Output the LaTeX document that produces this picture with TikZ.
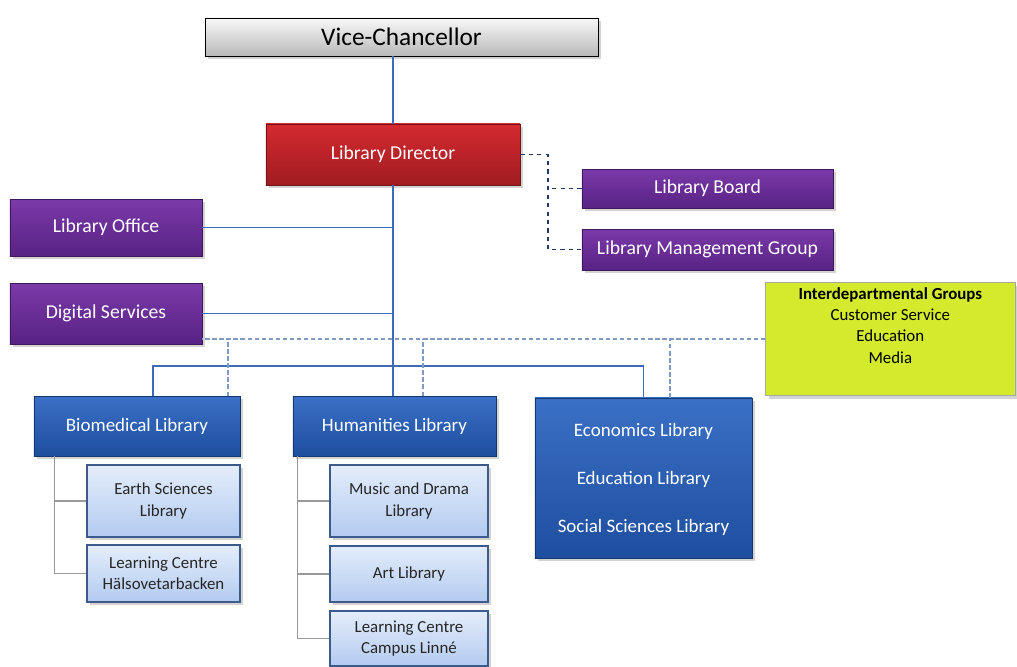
\documentclass[tikz,border=0pt]{standalone}
\usepackage{fontspec}
\setmainfont{Carlito}
\usetikzlibrary{shadows}

\definecolor{vcgray}{HTML}{B8B8B8}
\definecolor{dirtop}{HTML}{D42A30}
\definecolor{dirbot}{HTML}{A01C20}
\definecolor{purtop}{HTML}{7B3AA9}
\definecolor{purbot}{HTML}{582284}
\definecolor{blutop}{HTML}{3A70C6}
\definecolor{blubot}{HTML}{1E4E9E}
\definecolor{subtop}{HTML}{E4EDFB}
\definecolor{subbot}{HTML}{B3CBF0}
\definecolor{subline}{HTML}{3C5A8A}
\definecolor{grpfill}{HTML}{D4EA2C}
\definecolor{linkblue}{HTML}{3F6AB5}
\definecolor{linknavy}{HTML}{1F3864}
\definecolor{linkdot}{HTML}{7F9BC4}

\tikzset{
  unit/.style={draw=#1!70!black, drop shadow={opacity=0.35}, align=center, inner sep=2pt},
  vcbox/.style={unit=gray, draw=black, top color=gray!5, bottom color=vcgray, text=black,
    font=\fontsize{18}{21}\selectfont},
  dirbox/.style={unit=dirbot, top color=dirtop, bottom color=dirbot, text=white,
    font=\fontsize{14}{17}\selectfont},
  purbox/.style={unit=purbot, top color=purtop, bottom color=purbot, text=white,
    font=\fontsize{14}{17}\selectfont},
  blubox/.style={unit=blubot, top color=blutop, bottom color=blubot, text=white,
    font=\fontsize{13.5}{16}\selectfont},
  subbox/.style={draw=subline, thick, top color=subtop, bottom color=subbot, text=black!85,
    drop shadow={opacity=0.35}, align=center, font=\fontsize{12}{15}\selectfont},
  grpbox/.style={draw=gray!70, fill=grpfill, drop shadow={opacity=0.35}, align=center,
    text=black, font=\fontsize{12}{15}\selectfont},
  solidlink/.style={draw=linkblue, line width=1.3pt},
  mgrlink/.style={draw=linknavy, line width=1.3pt, dashed},
  grplink/.style={draw=linkdot, line width=1pt, densely dashed},
  sublink/.style={draw=gray!80, line width=0.9pt}
}

\begin{document}
\begin{tikzpicture}[x=0.025cm, y=-0.025cm]
  \useasboundingbox (0,0) rectangle (1017,666);

  % top of the tree
  \node[vcbox, minimum width=9.825cm, minimum height=0.95cm] (vc) at (401.5,37) {Vice-Chancellor};
  \node[dirbox, minimum width=6.35cm, minimum height=1.525cm] (dir) at (393,154.5) {Library Director};

  % boards and staff units
  \node[purbox, minimum width=6.275cm, minimum height=0.975cm] (board) at (707.5,188.5) {Library Board};
  \node[purbox, minimum width=6.275cm, minimum height=1.025cm] (mgmt) at (707.5,249.5) {Library Management Group};
  \node[purbox, minimum width=4.8cm, minimum height=1.425cm] (office) at (106,227.5) {Library Office};
  \node[purbox, minimum width=4.8cm, minimum height=1.525cm] (digital) at (106,313.5) {Digital Services};

  \node[grpbox, minimum width=6.25cm, minimum height=2.825cm, anchor=north west] (groups) at (765,282)
    {\textbf{Interdepartmental Groups}\\ Customer Service\\ Education\\ Media\\[4pt]};

  % libraries
  \node[blubox, minimum width=5.15cm, minimum height=1.5cm] (bio) at (137,426) {Biomedical Library};
  \node[blubox, minimum width=5.075cm, minimum height=1.5cm] (hum) at (394.5,426) {Humanities Library};
  \node[blubox, minimum width=5.425cm, minimum height=4cm] (econ) at (643.5,478)
    {Economics Library\\[18pt] Education Library\\[18pt] Social Sciences Library\\[-16pt]};

  \node[subbox, minimum width=3.825cm, minimum height=1.8cm] (earth) at (163.5,501) {Earth Sciences\\Library};
  \node[subbox, minimum width=3.825cm, minimum height=1.425cm] (lch) at (163.5,573.5) {Learning Centre\\Hälsovetarbacken};
  \node[subbox, minimum width=3.95cm, minimum height=1.8cm] (music) at (409,501) {Music and Drama\\Library};
  \node[subbox, minimum width=3.95cm, minimum height=1.4cm] (art) at (409,574) {Art Library};
  \node[subbox, minimum width=3.95cm, minimum height=1.375cm] (lcc) at (409,638.5) {Learning Centre\\Campus Linné};

  % line of command
  \coordinate (bus) at (0,366);
  \draw[solidlink] (dir.north) -- (dir.north |- vc.south);
  \draw[solidlink] (dir.south) -- (dir.south |- hum.north);
  \draw[solidlink] (office.east) -- (office.east -| dir.south);
  \draw[solidlink] (digital.east) -- (digital.east -| dir.south);
  \draw[solidlink] ([xshift=0.4cm]bio.north) -- ([xshift=0.4cm]bio.north |- bus)
    -- (econ.north |- bus) -- (econ.north);

  % advisory links
  \draw[mgrlink] (dir.east) -| ([xshift=-0.85cm]mgmt.west) -- (mgmt.west);
  \draw[mgrlink] (board.west) -- ([xshift=-0.85cm]board.west);

  \draw[grplink] (groups.west) -- (groups.west -| digital.east);
  \draw[grplink] ([xshift=2.275cm]bio.north) -- ([xshift=2.275cm]bio.north |- groups.west);
  \draw[grplink] ([xshift=0.71cm]hum.north) -- ([xshift=0.71cm]hum.north |- groups.west);
  \draw[grplink] ([xshift=0.66cm]econ.north) -- ([xshift=0.66cm]econ.north |- groups.west);

  % sub units
  \draw[sublink] ([xshift=0.525cm]bio.south west) |- (lch.west);
  \draw[sublink] ([xshift=0.525cm]bio.south west |- earth.west) -- (earth.west);
  \draw[sublink] ([xshift=0.125cm]hum.south west) |- (lcc.west);
  \draw[sublink] ([xshift=0.125cm]hum.south west |- music.west) -- (music.west);
  \draw[sublink] ([xshift=0.125cm]hum.south west |- art.west) -- (art.west);
\end{tikzpicture}
\end{document}
